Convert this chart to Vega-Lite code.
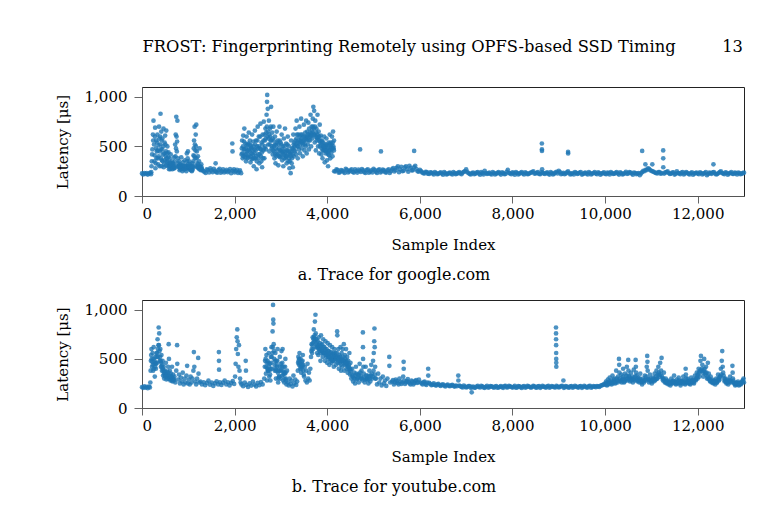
{
  "$schema": "https://vega.github.io/schema/vega-lite/v6.json",
  "background": "white",
  "padding": {"left": 54, "top": 39, "right": 20, "bottom": 10},
  "config": {
    "font": "DejaVu Serif",
    "view": {"stroke": "#222", "strokeWidth": 1},
    "axis": {
      "grid": false,
      "labelFont": "DejaVu Serif",
      "labelFontSize": 15,
      "labelColor": "#000",
      "titleFont": "DejaVu Serif",
      "titleFontSize": 15,
      "titleFontWeight": "normal",
      "titleColor": "#000",
      "domainColor": "#555",
      "tickColor": "#666"
    },
    "title": {"font": "DejaVu Serif", "fontSize": 16, "fontWeight": "normal", "color": "#000"}
  },
  "title": {
    "text": "FROST: Fingerprinting Remotely using OPFS-based SSD Timing\u00a0\u00a0\u00a0\u00a0\u00a0\u00a0\u00a0\u00a0\u00a013",
    "font": "DejaVu Serif",
    "fontSize": 16.3,
    "fontWeight": "normal",
    "anchor": "start",
    "dx": 88,
    "offset": 31
  },
  "datasets": {
    "google": [
      {"i":0,"lat":228},{"i":25,"lat":218},{"i":50,"lat":232},{"i":75,"lat":222},{"i":100,"lat":230},{"i":125,"lat":216},{"i":150,"lat":226},{"i":175,"lat":234},{"i":195,"lat":220},
      {"i":200,"lat":240},{"i":206,"lat":300},{"i":212,"lat":350},{"i":224,"lat":470},{"i":236,"lat":620},{"i":248,"lat":760},{"i":260,"lat":520},{"i":272,"lat":410},{"i":284,"lat":690},{"i":290,"lat":280},{"i":296,"lat":330},{"i":308,"lat":560},{"i":320,"lat":450},{"i":332,"lat":620},{"i":344,"lat":380},{"i":350,"lat":320},{"i":356,"lat":510},{"i":368,"lat":700},{"i":380,"lat":300},{"i":392,"lat":600},{"i":400,"lat":830},{"i":404,"lat":470},{"i":416,"lat":650},{"i":420,"lat":300},{"i":428,"lat":360},{"i":440,"lat":580},{"i":452,"lat":420},{"i":464,"lat":680},{"i":470,"lat":290},{"i":476,"lat":320},{"i":488,"lat":540},{"i":500,"lat":610},{"i":512,"lat":400},{"i":520,"lat":310},{"i":524,"lat":660},{"i":536,"lat":350},{"i":548,"lat":500},{"i":560,"lat":300},{"i":572,"lat":440},{"i":584,"lat":270},{"i":596,"lat":380},{"i":608,"lat":310},{"i":610,"lat":270},{"i":620,"lat":420},{"i":632,"lat":290},{"i":644,"lat":350},{"i":656,"lat":270},{"i":668,"lat":330},{"i":680,"lat":300},{"i":690,"lat":280},{"i":692,"lat":390},{"i":704,"lat":280},{"i":716,"lat":520},{"i":728,"lat":620},{"i":740,"lat":800},{"i":752,"lat":450},{"i":764,"lat":760},{"i":770,"lat":300},{"i":776,"lat":380},{"i":788,"lat":300},{"i":800,"lat":350},{"i":812,"lat":260},{"i":824,"lat":320},{"i":830,"lat":270},{"i":836,"lat":280},{"i":848,"lat":390},{"i":860,"lat":300},{"i":872,"lat":250},{"i":884,"lat":340},{"i":896,"lat":290},{"i":908,"lat":270},{"i":920,"lat":360},{"i":932,"lat":280},{"i":944,"lat":310},{"i":950,"lat":280},{"i":956,"lat":250},{"i":968,"lat":430},{"i":980,"lat":300},{"i":992,"lat":450},{"i":1004,"lat":280},{"i":1016,"lat":350},{"i":1028,"lat":270},{"i":1040,"lat":320},{"i":1052,"lat":260},{"i":1064,"lat":300},{"i":1076,"lat":250},{"i":1088,"lat":330},{"i":1090,"lat":270},{"i":1100,"lat":290},{"i":1112,"lat":410},{"i":1124,"lat":560},{"i":1136,"lat":700},{"i":1148,"lat":380},{"i":1150,"lat":300},{"i":1160,"lat":620},{"i":1172,"lat":720},{"i":1184,"lat":450},{"i":1190,"lat":290},{"i":1196,"lat":330},{"i":1208,"lat":400},{"i":1220,"lat":280},{"i":1232,"lat":350},{"i":1244,"lat":480},{"i":1256,"lat":300},{"i":1268,"lat":260},{"i":1280,"lat":320},{"i":1292,"lat":270},
      {"i":218,"lat":420},{"i":242,"lat":560},{"i":266,"lat":350},{"i":278,"lat":600},{"i":302,"lat":480},{"i":314,"lat":380},{"i":326,"lat":540},{"i":338,"lat":460},{"i":362,"lat":400},{"i":374,"lat":580},{"i":386,"lat":450},{"i":398,"lat":520},{"i":410,"lat":380},{"i":422,"lat":560},{"i":434,"lat":470},{"i":446,"lat":350},{"i":458,"lat":500},{"i":482,"lat":430},{"i":494,"lat":360},{"i":506,"lat":520},{"i":518,"lat":450},{"i":530,"lat":380},{"i":542,"lat":430},{"i":554,"lat":340},{"i":566,"lat":390},{"i":578,"lat":320},{"i":590,"lat":300},{"i":602,"lat":340},{"i":614,"lat":300},{"i":626,"lat":330},{"i":638,"lat":290},{"i":650,"lat":310},{"i":662,"lat":290},{"i":674,"lat":280},{"i":686,"lat":320},{"i":698,"lat":300},{"i":710,"lat":350},{"i":722,"lat":400},{"i":734,"lat":480},{"i":746,"lat":600},{"i":758,"lat":550},{"i":782,"lat":330},{"i":794,"lat":290},{"i":806,"lat":310},{"i":818,"lat":290},{"i":842,"lat":300},{"i":854,"lat":280},{"i":866,"lat":310},{"i":878,"lat":290},{"i":890,"lat":270},{"i":902,"lat":300},{"i":914,"lat":280},{"i":926,"lat":300},{"i":938,"lat":270},{"i":962,"lat":300},{"i":974,"lat":350},{"i":986,"lat":380},{"i":998,"lat":320},{"i":1010,"lat":290},{"i":1022,"lat":300},{"i":1034,"lat":280},{"i":1046,"lat":290},{"i":1058,"lat":270},{"i":1070,"lat":280},{"i":1082,"lat":260},{"i":1094,"lat":300},{"i":1106,"lat":350},{"i":1118,"lat":480},{"i":1130,"lat":400},{"i":1142,"lat":520},{"i":1154,"lat":460},{"i":1166,"lat":500},{"i":1178,"lat":380},{"i":1202,"lat":300},{"i":1214,"lat":320},{"i":1226,"lat":290},{"i":1238,"lat":270},{"i":1250,"lat":290},{"i":1262,"lat":280},{"i":1274,"lat":270},{"i":1286,"lat":290},
      {"i":1300,"lat":265},{"i":1325,"lat":250},{"i":1350,"lat":245},{"i":1375,"lat":232},{"i":1400,"lat":270},{"i":1425,"lat":262},{"i":1450,"lat":238},{"i":1475,"lat":280},{"i":1500,"lat":258},{"i":1525,"lat":240},{"i":1550,"lat":275},{"i":1575,"lat":255},{"i":1590,"lat":330},{"i":1600,"lat":242},{"i":1625,"lat":235},{"i":1650,"lat":262},{"i":1675,"lat":275},{"i":1700,"lat":235},{"i":1725,"lat":248},{"i":1750,"lat":268},{"i":1775,"lat":238},{"i":1800,"lat":250},{"i":1825,"lat":265},{"i":1850,"lat":240},{"i":1875,"lat":252},{"i":1900,"lat":272},{"i":1925,"lat":230},{"i":1950,"lat":530},{"i":1955,"lat":450},{"i":1960,"lat":255},{"i":1985,"lat":270},{"i":2000,"lat":238},{"i":2025,"lat":250},{"i":2050,"lat":265},{"i":2075,"lat":232},{"i":2100,"lat":245},{"i":2115,"lat":260},{"i":2140,"lat":230},
      {"i":2150,"lat":420},{"i":2162,"lat":560},{"i":2174,"lat":380},{"i":2186,"lat":610},{"i":2198,"lat":470},{"i":2210,"lat":680},{"i":2222,"lat":420},{"i":2234,"lat":530},{"i":2246,"lat":350},{"i":2258,"lat":600},{"i":2270,"lat":450},{"i":2282,"lat":520},{"i":2294,"lat":390},{"i":2306,"lat":640},{"i":2318,"lat":480},{"i":2330,"lat":560},{"i":2342,"lat":340},{"i":2354,"lat":500},{"i":2366,"lat":430},{"i":2378,"lat":620},{"i":2390,"lat":380},{"i":2402,"lat":550},{"i":2414,"lat":300},{"i":2426,"lat":470},{"i":2438,"lat":660},{"i":2450,"lat":380},{"i":2462,"lat":560},{"i":2474,"lat":270},{"i":2486,"lat":500},{"i":2498,"lat":700},{"i":2510,"lat":420},{"i":2522,"lat":600},{"i":2534,"lat":330},{"i":2546,"lat":480},{"i":2558,"lat":730},{"i":2570,"lat":400},{"i":2582,"lat":540},{"i":2594,"lat":290},{"i":2606,"lat":620},{"i":2618,"lat":460},{"i":2630,"lat":750},{"i":2642,"lat":380},{"i":2654,"lat":560},{"i":2666,"lat":680},{"i":2678,"lat":470},{"i":2690,"lat":820},{"i":2700,"lat":950},{"i":2704,"lat":1020},{"i":2710,"lat":600},{"i":2716,"lat":880},{"i":2728,"lat":520},{"i":2740,"lat":760},{"i":2752,"lat":450},{"i":2764,"lat":680},{"i":2776,"lat":560},{"i":2788,"lat":900},{"i":2800,"lat":480},{"i":2812,"lat":640},{"i":2824,"lat":420},{"i":2836,"lat":700},{"i":2848,"lat":500},{"i":2860,"lat":380},{"i":2872,"lat":600},{"i":2884,"lat":330},{"i":2896,"lat":520},{"i":2908,"lat":650},{"i":2920,"lat":420},{"i":2932,"lat":560},{"i":2944,"lat":310},{"i":2956,"lat":480},{"i":2968,"lat":700},{"i":2980,"lat":390},{"i":2992,"lat":540},{"i":3004,"lat":450},{"i":3016,"lat":620},{"i":3028,"lat":360},{"i":3040,"lat":500},{"i":3052,"lat":300},{"i":3064,"lat":580},{"i":3076,"lat":420},{"i":3088,"lat":680},{"i":3100,"lat":380},{"i":3112,"lat":530},{"i":3124,"lat":330},{"i":3136,"lat":460},{"i":3148,"lat":600},{"i":3160,"lat":350},{"i":3172,"lat":500},{"i":3184,"lat":280},{"i":3196,"lat":420},{"i":3210,"lat":230},{"i":3220,"lat":560},{"i":3232,"lat":330},{"i":3244,"lat":480},{"i":3256,"lat":290},{"i":3268,"lat":620},{"i":3280,"lat":400},{"i":3292,"lat":540},{"i":3304,"lat":450},{"i":3316,"lat":680},{"i":3328,"lat":420},{"i":3340,"lat":760},{"i":3352,"lat":500},{"i":3364,"lat":380},{"i":3376,"lat":620},{"i":3388,"lat":470},{"i":3400,"lat":700},{"i":3412,"lat":430},{"i":3424,"lat":560},{"i":3436,"lat":780},{"i":3448,"lat":480},{"i":3460,"lat":620},{"i":3472,"lat":400},{"i":3484,"lat":540},{"i":3496,"lat":720},{"i":3508,"lat":460},{"i":3520,"lat":600},{"i":3532,"lat":500},{"i":3544,"lat":760},{"i":3556,"lat":430},{"i":3568,"lat":650},{"i":3580,"lat":520},{"i":3592,"lat":740},{"i":3604,"lat":470},{"i":3616,"lat":620},{"i":3628,"lat":560},{"i":3640,"lat":820},{"i":3652,"lat":500},{"i":3664,"lat":700},{"i":3676,"lat":580},{"i":3688,"lat":780},{"i":3700,"lat":900},{"i":3706,"lat":620},{"i":3718,"lat":860},{"i":3730,"lat":540},{"i":3742,"lat":760},{"i":3754,"lat":460},{"i":3766,"lat":680},{"i":3778,"lat":590},{"i":3790,"lat":820},{"i":3802,"lat":500},{"i":3814,"lat":650},{"i":3826,"lat":430},{"i":3838,"lat":720},{"i":3850,"lat":540},{"i":3862,"lat":610},{"i":3874,"lat":420},{"i":3886,"lat":560},{"i":3898,"lat":380},{"i":3910,"lat":500},{"i":3922,"lat":460},{"i":3934,"lat":600},{"i":3946,"lat":340},{"i":3958,"lat":520},{"i":3970,"lat":430},{"i":3982,"lat":580},{"i":3994,"lat":360},{"i":4006,"lat":480},{"i":4018,"lat":300},{"i":4030,"lat":540},{"i":4042,"lat":410},{"i":4054,"lat":620},{"i":4066,"lat":380},{"i":4078,"lat":500},{"i":4090,"lat":440},{"i":4102,"lat":600},{"i":4114,"lat":400},{"i":4126,"lat":650},{"i":4138,"lat":480},{"i":4146,"lat":560},
      {"i":2156,"lat":480},{"i":2168,"lat":430},{"i":2180,"lat":500},{"i":2192,"lat":400},{"i":2204,"lat":550},{"i":2216,"lat":470},{"i":2228,"lat":390},{"i":2240,"lat":480},{"i":2252,"lat":420},{"i":2264,"lat":510},{"i":2276,"lat":380},{"i":2288,"lat":460},{"i":2300,"lat":530},{"i":2312,"lat":410},{"i":2324,"lat":450},{"i":2336,"lat":520},{"i":2348,"lat":400},{"i":2360,"lat":480},{"i":2372,"lat":370},{"i":2384,"lat":460},{"i":2396,"lat":420},{"i":2408,"lat":500},{"i":2420,"lat":380},{"i":2432,"lat":430},{"i":2444,"lat":520},{"i":2456,"lat":460},{"i":2468,"lat":400},{"i":2480,"lat":350},{"i":2492,"lat":560},{"i":2504,"lat":480},{"i":2516,"lat":380},{"i":2528,"lat":500},{"i":2540,"lat":420},{"i":2552,"lat":600},{"i":2564,"lat":470},{"i":2576,"lat":350},{"i":2588,"lat":440},{"i":2600,"lat":520},{"i":2612,"lat":380},{"i":2624,"lat":560},{"i":2636,"lat":480},{"i":2648,"lat":620},{"i":2660,"lat":500},{"i":2672,"lat":580},{"i":2684,"lat":640},{"i":2696,"lat":700},{"i":2722,"lat":650},{"i":2734,"lat":580},{"i":2746,"lat":620},{"i":2758,"lat":520},{"i":2770,"lat":600},{"i":2782,"lat":700},{"i":2794,"lat":560},{"i":2806,"lat":500},{"i":2818,"lat":580},{"i":2830,"lat":460},{"i":2842,"lat":560},{"i":2854,"lat":450},{"i":2866,"lat":520},{"i":2878,"lat":420},{"i":2890,"lat":480},{"i":2902,"lat":400},{"i":2914,"lat":540},{"i":2926,"lat":460},{"i":2938,"lat":420},{"i":2950,"lat":520},{"i":2962,"lat":400},{"i":2974,"lat":560},{"i":2986,"lat":460},{"i":2998,"lat":400},{"i":3010,"lat":520},{"i":3022,"lat":440},{"i":3034,"lat":470},{"i":3046,"lat":420},{"i":3058,"lat":450},{"i":3070,"lat":380},{"i":3082,"lat":500},{"i":3094,"lat":440},{"i":3106,"lat":400},{"i":3118,"lat":460},{"i":3130,"lat":400},{"i":3142,"lat":520},{"i":3154,"lat":420},{"i":3166,"lat":450},{"i":3178,"lat":380},{"i":3190,"lat":350},{"i":3202,"lat":450},{"i":3214,"lat":400},{"i":3226,"lat":440},{"i":3238,"lat":380},{"i":3250,"lat":420},{"i":3262,"lat":480},{"i":3274,"lat":520},{"i":3286,"lat":460},{"i":3298,"lat":500},{"i":3310,"lat":560},{"i":3322,"lat":520},{"i":3334,"lat":580},{"i":3346,"lat":620},{"i":3358,"lat":540},{"i":3370,"lat":500},{"i":3382,"lat":560},{"i":3394,"lat":540},{"i":3406,"lat":600},{"i":3418,"lat":520},{"i":3430,"lat":620},{"i":3442,"lat":580},{"i":3454,"lat":540},{"i":3466,"lat":560},{"i":3478,"lat":520},{"i":3490,"lat":600},{"i":3502,"lat":560},{"i":3514,"lat":520},{"i":3526,"lat":640},{"i":3538,"lat":580},{"i":3550,"lat":560},{"i":3562,"lat":600},{"i":3574,"lat":580},{"i":3586,"lat":620},{"i":3598,"lat":560},{"i":3610,"lat":680},{"i":3622,"lat":600},{"i":3634,"lat":640},{"i":3646,"lat":600},{"i":3658,"lat":620},{"i":3670,"lat":660},{"i":3682,"lat":640},{"i":3694,"lat":700},{"i":3712,"lat":680},{"i":3724,"lat":620},{"i":3736,"lat":700},{"i":3748,"lat":600},{"i":3760,"lat":640},{"i":3772,"lat":560},{"i":3784,"lat":620},{"i":3796,"lat":580},{"i":3808,"lat":600},{"i":3820,"lat":560},{"i":3832,"lat":600},{"i":3844,"lat":500},{"i":3856,"lat":560},{"i":3868,"lat":520},{"i":3880,"lat":480},{"i":3892,"lat":540},{"i":3904,"lat":460},{"i":3916,"lat":540},{"i":3928,"lat":500},{"i":3940,"lat":480},{"i":3952,"lat":460},{"i":3964,"lat":500},{"i":3976,"lat":460},{"i":3988,"lat":520},{"i":4000,"lat":440},{"i":4012,"lat":500},{"i":4024,"lat":420},{"i":4036,"lat":460},{"i":4048,"lat":520},{"i":4060,"lat":460},{"i":4072,"lat":540},{"i":4084,"lat":480},{"i":4096,"lat":520},{"i":4108,"lat":480},{"i":4120,"lat":540},{"i":4132,"lat":500},{"i":4144,"lat":460},
      {"i":4150,"lat":250},{"i":4200,"lat":270},{"i":4250,"lat":235},{"i":4300,"lat":262},{"i":4350,"lat":245},{"i":4400,"lat":275},{"i":4450,"lat":238},{"i":4500,"lat":258},{"i":4550,"lat":242},{"i":4600,"lat":268},{"i":4650,"lat":236},{"i":4700,"lat":255},{"i":4710,"lat":470},{"i":4750,"lat":272},{"i":4800,"lat":240},{"i":4850,"lat":262},{"i":4900,"lat":235},{"i":4950,"lat":258},{"i":5000,"lat":275},{"i":5050,"lat":244},{"i":5100,"lat":262},{"i":5150,"lat":238},{"i":5160,"lat":450},{"i":5200,"lat":266},{"i":5250,"lat":240},{"i":5300,"lat":258},{"i":5350,"lat":232},{"i":5400,"lat":270},{"i":5450,"lat":248},{"i":5500,"lat":285},{"i":5550,"lat":240},{"i":5600,"lat":295},{"i":5650,"lat":255},{"i":5700,"lat":300},{"i":5750,"lat":245},{"i":5800,"lat":285},{"i":5850,"lat":260},{"i":5877,"lat":455},{"i":5900,"lat":305},{"i":5950,"lat":250},{"i":6000,"lat":265},{"i":6050,"lat":238},{"i":6100,"lat":228},{"i":6150,"lat":240},{"i":6200,"lat":222},{"i":6250,"lat":235},{"i":6300,"lat":218},{"i":6350,"lat":232},{"i":6400,"lat":224},{"i":6450,"lat":238},{"i":6500,"lat":215},{"i":6550,"lat":230},{"i":6600,"lat":222},{"i":6650,"lat":236},{"i":6700,"lat":218},{"i":6750,"lat":230},{"i":6800,"lat":225},{"i":6850,"lat":240},{"i":6900,"lat":220},{"i":6950,"lat":245},{"i":7000,"lat":270},{"i":7050,"lat":232},{"i":7100,"lat":218},{"i":7150,"lat":235},{"i":7200,"lat":225},{"i":7250,"lat":240},{"i":7300,"lat":215},{"i":7350,"lat":230},{"i":7400,"lat":255},{"i":7450,"lat":222},{"i":7500,"lat":236},{"i":7550,"lat":218},{"i":7600,"lat":232},{"i":7650,"lat":225},{"i":7700,"lat":240},{"i":7750,"lat":216},{"i":7800,"lat":230},{"i":7850,"lat":222},{"i":7900,"lat":265},{"i":7950,"lat":228},{"i":8000,"lat":238},{"i":8050,"lat":215},{"i":8100,"lat":232},{"i":8150,"lat":225},{"i":8200,"lat":240},{"i":8250,"lat":218},{"i":8300,"lat":230},{"i":8350,"lat":222},{"i":8400,"lat":236},{"i":8450,"lat":250},{"i":8500,"lat":228},{"i":8550,"lat":240},{"i":8600,"lat":220},{"i":8635,"lat":530},{"i":8636,"lat":470},{"i":8637,"lat":455},{"i":8640,"lat":270},{"i":8650,"lat":235},{"i":8700,"lat":222},{"i":8750,"lat":238},{"i":8800,"lat":216},{"i":8850,"lat":230},{"i":8900,"lat":225},{"i":8950,"lat":245},{"i":9000,"lat":255},{"i":9050,"lat":220},{"i":9100,"lat":234},{"i":9150,"lat":226},{"i":9200,"lat":250},{"i":9201,"lat":445},{"i":9202,"lat":430},{"i":9250,"lat":218},{"i":9300,"lat":232},{"i":9350,"lat":240},{"i":9400,"lat":222},{"i":9450,"lat":236},{"i":9500,"lat":216},{"i":9550,"lat":230},{"i":9600,"lat":225},{"i":9650,"lat":240},{"i":9700,"lat":218},{"i":9750,"lat":232},{"i":9800,"lat":226},{"i":9850,"lat":238},{"i":9900,"lat":215},{"i":9950,"lat":230},{"i":10000,"lat":224},{"i":10050,"lat":236},{"i":10100,"lat":218},{"i":10150,"lat":232},{"i":10200,"lat":225},{"i":10250,"lat":240},{"i":10300,"lat":216},{"i":10350,"lat":230},{"i":10400,"lat":222},{"i":10450,"lat":245},{"i":10500,"lat":228},{"i":10550,"lat":236},{"i":10600,"lat":215},{"i":10650,"lat":232},{"i":10700,"lat":226},{"i":10750,"lat":210},{"i":10800,"lat":240},{"i":10801,"lat":455},{"i":10850,"lat":250},{"i":10870,"lat":320},{"i":10900,"lat":262},{"i":10950,"lat":275},{"i":11000,"lat":255},{"i":11020,"lat":320},{"i":11050,"lat":245},{"i":11100,"lat":232},{"i":11150,"lat":240},{"i":11200,"lat":225},{"i":11255,"lat":460},{"i":11256,"lat":380},{"i":11257,"lat":290},{"i":11300,"lat":238},{"i":11350,"lat":250},{"i":11400,"lat":222},{"i":11450,"lat":236},{"i":11500,"lat":216},{"i":11550,"lat":248},{"i":11600,"lat":228},{"i":11650,"lat":235},{"i":11700,"lat":218},{"i":11750,"lat":240},{"i":11800,"lat":224},{"i":11850,"lat":232},{"i":11900,"lat":215},{"i":11950,"lat":230},{"i":12000,"lat":226},{"i":12050,"lat":238},{"i":12100,"lat":218},{"i":12150,"lat":232},{"i":12200,"lat":210},{"i":12250,"lat":236},{"i":12300,"lat":224},{"i":12340,"lat":320},{"i":12350,"lat":240},{"i":12400,"lat":218},{"i":12450,"lat":232},{"i":12500,"lat":250},{"i":12550,"lat":226},{"i":12600,"lat":238},{"i":12650,"lat":215},{"i":12700,"lat":232},{"i":12750,"lat":224},{"i":12800,"lat":236},{"i":12850,"lat":218},{"i":12900,"lat":230},{"i":12950,"lat":225},{"i":13000,"lat":235},
      {"i":4175,"lat":248},{"i":4225,"lat":262},{"i":4275,"lat":240},{"i":4325,"lat":255},{"i":4375,"lat":232},{"i":4425,"lat":265},{"i":4475,"lat":248},{"i":4525,"lat":270},{"i":4575,"lat":236},{"i":4625,"lat":252},{"i":4675,"lat":266},{"i":4725,"lat":242},{"i":4775,"lat":258},{"i":4825,"lat":232},{"i":4875,"lat":270},{"i":4925,"lat":246},{"i":4975,"lat":238},{"i":5025,"lat":262},{"i":5075,"lat":232},{"i":5125,"lat":270},{"i":5175,"lat":248},{"i":5225,"lat":258},{"i":5275,"lat":236},{"i":5325,"lat":268},{"i":5375,"lat":250},{"i":5425,"lat":282},{"i":5475,"lat":262},{"i":5525,"lat":300},{"i":5575,"lat":268},{"i":5625,"lat":250},{"i":5675,"lat":290},{"i":5725,"lat":270},{"i":5775,"lat":305},{"i":5825,"lat":258},{"i":5875,"lat":290},{"i":5925,"lat":272},{"i":5975,"lat":245},
      {"i":6025,"lat":252},{"i":6075,"lat":230},{"i":6125,"lat":245},{"i":6175,"lat":225},{"i":6225,"lat":238},{"i":6275,"lat":228},{"i":6325,"lat":242},{"i":6375,"lat":220},{"i":6425,"lat":232},{"i":6475,"lat":226},{"i":6525,"lat":240},{"i":6575,"lat":218},{"i":6625,"lat":230},{"i":6675,"lat":225},{"i":6725,"lat":240},{"i":6775,"lat":220},{"i":6825,"lat":234},{"i":6875,"lat":228},{"i":6925,"lat":236},{"i":6975,"lat":250},{"i":7025,"lat":240},{"i":7075,"lat":222},{"i":7125,"lat":230},{"i":7175,"lat":220},{"i":7225,"lat":236},{"i":7275,"lat":226},{"i":7325,"lat":240},{"i":7375,"lat":218},{"i":7425,"lat":232},{"i":7475,"lat":228},{"i":7525,"lat":224},{"i":7575,"lat":240},{"i":7625,"lat":218},{"i":7675,"lat":234},{"i":7725,"lat":228},{"i":7775,"lat":238},{"i":7825,"lat":220},{"i":7875,"lat":245},{"i":7925,"lat":232},{"i":7975,"lat":220},{"i":8025,"lat":230},{"i":8075,"lat":240},{"i":8125,"lat":218},{"i":8175,"lat":234},{"i":8225,"lat":226},{"i":8275,"lat":238},{"i":8325,"lat":220},{"i":8375,"lat":232},{"i":8425,"lat":240},{"i":8475,"lat":226},{"i":8525,"lat":234},{"i":8575,"lat":222},{"i":8625,"lat":238},{"i":8675,"lat":228},{"i":8725,"lat":232},{"i":8775,"lat":224},{"i":8825,"lat":240},{"i":8875,"lat":218},{"i":8925,"lat":236},{"i":8975,"lat":228},{"i":9025,"lat":240},{"i":9075,"lat":226},{"i":9125,"lat":220},{"i":9175,"lat":238},{"i":9225,"lat":230},{"i":9275,"lat":224},{"i":9325,"lat":218},{"i":9375,"lat":234},{"i":9425,"lat":228},{"i":9475,"lat":240},{"i":9525,"lat":222},{"i":9575,"lat":236},{"i":9625,"lat":218},{"i":9675,"lat":230},{"i":9725,"lat":226},{"i":9775,"lat":240},{"i":9825,"lat":220},{"i":9875,"lat":232},{"i":9925,"lat":226},{"i":9975,"lat":238},
      {"i":10025,"lat":220},{"i":10075,"lat":230},{"i":10125,"lat":240},{"i":10175,"lat":222},{"i":10225,"lat":234},{"i":10275,"lat":226},{"i":10325,"lat":238},{"i":10375,"lat":218},{"i":10425,"lat":232},{"i":10475,"lat":224},{"i":10525,"lat":240},{"i":10575,"lat":226},{"i":10625,"lat":236},{"i":10675,"lat":220},{"i":10725,"lat":232},{"i":10775,"lat":228},{"i":10825,"lat":255},{"i":10875,"lat":265},{"i":10925,"lat":280},{"i":10975,"lat":260},{"i":11025,"lat":248},{"i":11075,"lat":236},{"i":11125,"lat":228},{"i":11175,"lat":242},{"i":11225,"lat":230},{"i":11275,"lat":226},{"i":11325,"lat":240},{"i":11375,"lat":232},{"i":11425,"lat":226},{"i":11475,"lat":238},{"i":11525,"lat":224},{"i":11575,"lat":232},{"i":11625,"lat":220},{"i":11675,"lat":240},{"i":11725,"lat":228},{"i":11775,"lat":234},{"i":11825,"lat":218},{"i":11875,"lat":238},{"i":11925,"lat":226},{"i":11975,"lat":236},{"i":12025,"lat":220},{"i":12075,"lat":232},{"i":12125,"lat":226},{"i":12175,"lat":240},{"i":12225,"lat":222},{"i":12275,"lat":230},{"i":12325,"lat":238},{"i":12375,"lat":226},{"i":12425,"lat":222},{"i":12475,"lat":240},{"i":12525,"lat":232},{"i":12575,"lat":220},{"i":12625,"lat":234},{"i":12675,"lat":226},{"i":12725,"lat":240},{"i":12775,"lat":222},{"i":12825,"lat":230},{"i":12875,"lat":236},{"i":12925,"lat":220},{"i":12975,"lat":230}
    ],
    "youtube": [
      {"i":0,"lat":212},{"i":25,"lat":205},{"i":50,"lat":220},{"i":75,"lat":208},{"i":100,"lat":215},{"i":125,"lat":202},{"i":150,"lat":218},{"i":170,"lat":210},
      {"i":180,"lat":260},{"i":192,"lat":480},{"i":204,"lat":600},{"i":216,"lat":420},{"i":228,"lat":560},{"i":240,"lat":380},{"i":252,"lat":620},{"i":264,"lat":450},{"i":276,"lat":320},{"i":288,"lat":520},{"i":300,"lat":400},{"i":312,"lat":560},{"i":324,"lat":460},{"i":336,"lat":700},{"i":348,"lat":520},{"i":360,"lat":820},{"i":366,"lat":640},{"i":372,"lat":760},{"i":384,"lat":480},{"i":396,"lat":600},{"i":408,"lat":420},{"i":420,"lat":540},{"i":432,"lat":380},{"i":444,"lat":480},{"i":456,"lat":330},{"i":468,"lat":420},{"i":480,"lat":300},{"i":492,"lat":380},{"i":504,"lat":340},{"i":516,"lat":460},{"i":528,"lat":290},{"i":540,"lat":370},{"i":552,"lat":320},{"i":564,"lat":420},{"i":576,"lat":650},{"i":582,"lat":500},{"i":588,"lat":300},{"i":600,"lat":380},{"i":612,"lat":280},{"i":624,"lat":350},{"i":636,"lat":300},{"i":648,"lat":420},{"i":660,"lat":270},{"i":672,"lat":340},{"i":684,"lat":290},
      {"i":186,"lat":380},{"i":198,"lat":540},{"i":210,"lat":500},{"i":222,"lat":470},{"i":234,"lat":440},{"i":246,"lat":500},{"i":258,"lat":400},{"i":270,"lat":480},{"i":282,"lat":420},{"i":294,"lat":460},{"i":306,"lat":450},{"i":318,"lat":520},{"i":330,"lat":560},{"i":342,"lat":600},{"i":354,"lat":640},{"i":378,"lat":580},{"i":390,"lat":520},{"i":402,"lat":480},{"i":414,"lat":460},{"i":426,"lat":420},{"i":438,"lat":440},{"i":450,"lat":400},{"i":462,"lat":380},{"i":474,"lat":360},{"i":486,"lat":340},{"i":498,"lat":320},{"i":510,"lat":360},{"i":522,"lat":330},{"i":534,"lat":320},{"i":546,"lat":340},{"i":558,"lat":300},{"i":570,"lat":360},{"i":594,"lat":330},{"i":606,"lat":320},{"i":618,"lat":300},{"i":630,"lat":320},{"i":642,"lat":280},{"i":654,"lat":310},{"i":666,"lat":290},{"i":678,"lat":300},{"i":690,"lat":280},
      {"i":700,"lat":320},{"i":720,"lat":260},{"i":740,"lat":380},{"i":758,"lat":640},{"i":762,"lat":450},{"i":780,"lat":290},{"i":800,"lat":340},{"i":820,"lat":250},{"i":840,"lat":310},{"i":860,"lat":270},{"i":880,"lat":360},{"i":900,"lat":240},{"i":920,"lat":300},{"i":940,"lat":260},{"i":960,"lat":330},{"i":975,"lat":430},{"i":990,"lat":250},{"i":1010,"lat":290},{"i":1030,"lat":240},{"i":1050,"lat":320},{"i":1070,"lat":260},{"i":1090,"lat":300},{"i":1110,"lat":380},{"i":1120,"lat":570},{"i":1130,"lat":420},{"i":1150,"lat":270},{"i":1170,"lat":240},{"i":1190,"lat":300},{"i":1213,"lat":510},{"i":1220,"lat":350},{"i":1240,"lat":260},
      {"i":1260,"lat":270},{"i":1295,"lat":240},{"i":1330,"lat":262},{"i":1365,"lat":232},{"i":1400,"lat":255},{"i":1435,"lat":278},{"i":1470,"lat":238},{"i":1505,"lat":260},{"i":1540,"lat":225},{"i":1575,"lat":250},{"i":1610,"lat":272},{"i":1645,"lat":240},{"i":1660,"lat":570},{"i":1662,"lat":480},{"i":1664,"lat":390},{"i":1680,"lat":262},{"i":1715,"lat":235},{"i":1750,"lat":258},{"i":1785,"lat":280},{"i":1820,"lat":240},{"i":1855,"lat":262},{"i":1890,"lat":230},{"i":1925,"lat":255},{"i":1960,"lat":275},{"i":1990,"lat":245},
      {"i":2010,"lat":320},{"i":2022,"lat":450},{"i":2034,"lat":600},{"i":2046,"lat":720},{"i":2058,"lat":800},{"i":2064,"lat":680},{"i":2070,"lat":550},{"i":2082,"lat":420},{"i":2094,"lat":640},{"i":2106,"lat":380},{"i":2118,"lat":300},{"i":2130,"lat":260},
      {"i":2150,"lat":240},{"i":2185,"lat":222},{"i":2220,"lat":260},{"i":2240,"lat":480},{"i":2245,"lat":380},{"i":2255,"lat":235},{"i":2290,"lat":215},{"i":2325,"lat":250},{"i":2360,"lat":228},{"i":2395,"lat":270},{"i":2430,"lat":238},{"i":2465,"lat":220},{"i":2500,"lat":255},{"i":2535,"lat":232},{"i":2570,"lat":265},{"i":2605,"lat":240},{"i":2640,"lat":300},
      {"i":2652,"lat":420},{"i":2664,"lat":600},{"i":2676,"lat":350},{"i":2688,"lat":540},{"i":2700,"lat":280},{"i":2712,"lat":480},{"i":2724,"lat":380},{"i":2736,"lat":560},{"i":2748,"lat":320},{"i":2760,"lat":450},{"i":2772,"lat":280},{"i":2784,"lat":520},{"i":2796,"lat":620},{"i":2808,"lat":400},{"i":2820,"lat":780},{"i":2830,"lat":1050},{"i":2834,"lat":900},{"i":2838,"lat":860},{"i":2844,"lat":650},{"i":2856,"lat":500},{"i":2868,"lat":380},{"i":2880,"lat":560},{"i":2892,"lat":300},{"i":2904,"lat":480},{"i":2916,"lat":420},{"i":2928,"lat":600},{"i":2940,"lat":260},{"i":2952,"lat":380},{"i":2964,"lat":320},{"i":2976,"lat":520},
      {"i":2658,"lat":480},{"i":2670,"lat":500},{"i":2682,"lat":420},{"i":2694,"lat":460},{"i":2706,"lat":400},{"i":2718,"lat":380},{"i":2730,"lat":460},{"i":2742,"lat":420},{"i":2754,"lat":380},{"i":2766,"lat":340},{"i":2778,"lat":400},{"i":2790,"lat":460},{"i":2802,"lat":520},{"i":2814,"lat":560},{"i":2826,"lat":620},{"i":2850,"lat":580},{"i":2862,"lat":440},{"i":2874,"lat":480},{"i":2886,"lat":400},{"i":2898,"lat":380},{"i":2910,"lat":440},{"i":2922,"lat":480},{"i":2934,"lat":360},{"i":2946,"lat":300},{"i":2958,"lat":320},{"i":2970,"lat":380},{"i":2982,"lat":420},
      {"i":2988,"lat":300},{"i":3000,"lat":450},{"i":3012,"lat":580},{"i":3024,"lat":330},{"i":3036,"lat":600},{"i":3048,"lat":280},{"i":3060,"lat":420},{"i":3072,"lat":260},{"i":3084,"lat":350},{"i":3096,"lat":500},{"i":3108,"lat":300},{"i":3120,"lat":240},{"i":3132,"lat":380},
      {"i":3006,"lat":380},{"i":3018,"lat":420},{"i":3030,"lat":460},{"i":3042,"lat":380},{"i":3054,"lat":340},{"i":3066,"lat":360},{"i":3078,"lat":300},{"i":3090,"lat":420},{"i":3102,"lat":360},{"i":3114,"lat":280},
      {"i":3150,"lat":260},{"i":3170,"lat":230},{"i":3190,"lat":300},{"i":3210,"lat":245},{"i":3230,"lat":280},{"i":3250,"lat":220},{"i":3270,"lat":330},{"i":3290,"lat":250},{"i":3310,"lat":290},{"i":3330,"lat":235},{"i":3350,"lat":270},
      {"i":3365,"lat":380},{"i":3377,"lat":520},{"i":3389,"lat":440},{"i":3401,"lat":560},{"i":3413,"lat":400},{"i":3425,"lat":500},{"i":3437,"lat":360},{"i":3449,"lat":470},{"i":3461,"lat":420},{"i":3473,"lat":540},{"i":3485,"lat":380},
      {"i":3371,"lat":460},{"i":3383,"lat":480},{"i":3395,"lat":500},{"i":3407,"lat":460},{"i":3419,"lat":440},{"i":3431,"lat":420},{"i":3443,"lat":400},{"i":3455,"lat":440},{"i":3467,"lat":480},{"i":3479,"lat":440},{"i":3491,"lat":340},
      {"i":3500,"lat":320},{"i":3515,"lat":420},{"i":3530,"lat":280},{"i":3545,"lat":380},{"i":3560,"lat":260},{"i":3575,"lat":450},{"i":3590,"lat":300},{"i":3605,"lat":360},{"i":3620,"lat":280},{"i":3635,"lat":400},
      {"i":3650,"lat":520},{"i":3662,"lat":650},{"i":3674,"lat":560},{"i":3686,"lat":720},{"i":3698,"lat":600},{"i":3710,"lat":800},{"i":3722,"lat":680},{"i":3734,"lat":880},{"i":3746,"lat":950},{"i":3752,"lat":760},{"i":3758,"lat":620},{"i":3770,"lat":700},{"i":3782,"lat":560},
      {"i":3794,"lat":680},{"i":3806,"lat":540},{"i":3818,"lat":720},{"i":3830,"lat":600},{"i":3842,"lat":660},{"i":3854,"lat":480},{"i":3866,"lat":740},{"i":3878,"lat":580},{"i":3890,"lat":650},{"i":3902,"lat":520},{"i":3914,"lat":700},{"i":3926,"lat":560},{"i":3938,"lat":620},{"i":3950,"lat":480},{"i":3962,"lat":680},{"i":3974,"lat":540},{"i":3986,"lat":600},{"i":3998,"lat":460},{"i":4010,"lat":660},{"i":4022,"lat":520},{"i":4034,"lat":580},{"i":4046,"lat":440},{"i":4058,"lat":640},{"i":4070,"lat":500},{"i":4082,"lat":570},{"i":4094,"lat":460},{"i":4106,"lat":620},{"i":4118,"lat":480},{"i":4130,"lat":550},{"i":4142,"lat":420},{"i":4154,"lat":600},{"i":4166,"lat":500},{"i":4178,"lat":560},{"i":4190,"lat":440},{"i":4202,"lat":520},{"i":4214,"lat":780},{"i":4218,"lat":740},{"i":4226,"lat":460},{"i":4238,"lat":600},{"i":4250,"lat":400},{"i":4262,"lat":540},{"i":4274,"lat":460},{"i":4286,"lat":620},{"i":4298,"lat":380},
      {"i":3656,"lat":580},{"i":3668,"lat":600},{"i":3680,"lat":640},{"i":3692,"lat":660},{"i":3704,"lat":700},{"i":3716,"lat":720},{"i":3728,"lat":740},{"i":3740,"lat":700},{"i":3764,"lat":660},{"i":3776,"lat":640},{"i":3788,"lat":620},{"i":3800,"lat":620},{"i":3812,"lat":600},{"i":3824,"lat":640},{"i":3836,"lat":580},{"i":3848,"lat":620},{"i":3860,"lat":560},{"i":3872,"lat":640},{"i":3884,"lat":600},{"i":3896,"lat":580},{"i":3908,"lat":560},{"i":3920,"lat":620},{"i":3932,"lat":560},{"i":3944,"lat":560},{"i":3956,"lat":600},{"i":3968,"lat":580},{"i":3980,"lat":520},{"i":3992,"lat":560},{"i":4004,"lat":540},{"i":4016,"lat":580},{"i":4028,"lat":500},{"i":4040,"lat":540},{"i":4052,"lat":520},{"i":4064,"lat":560},{"i":4076,"lat":480},{"i":4088,"lat":540},{"i":4100,"lat":520},{"i":4112,"lat":500},{"i":4124,"lat":480},{"i":4136,"lat":560},{"i":4148,"lat":520},{"i":4160,"lat":540},{"i":4172,"lat":480},{"i":4184,"lat":520},{"i":4196,"lat":500},{"i":4208,"lat":560},{"i":4232,"lat":520},{"i":4244,"lat":480},{"i":4256,"lat":500},{"i":4268,"lat":480},{"i":4280,"lat":520},{"i":4292,"lat":440},{"i":4304,"lat":480},{"i":4316,"lat":500},{"i":4328,"lat":480},{"i":4340,"lat":520},{"i":4352,"lat":460},{"i":4364,"lat":480},{"i":4376,"lat":440},{"i":4388,"lat":500},{"i":4400,"lat":460},{"i":4412,"lat":480},{"i":4424,"lat":440},{"i":4436,"lat":460},{"i":4448,"lat":420},{"i":4460,"lat":400},{"i":4472,"lat":440},{"i":4484,"lat":380},{"i":4496,"lat":400},{"i":4508,"lat":380},
      {"i":4310,"lat":560},{"i":4322,"lat":420},{"i":4334,"lat":600},{"i":4346,"lat":480},{"i":4358,"lat":650},{"i":4370,"lat":380},{"i":4382,"lat":540},{"i":4394,"lat":450},{"i":4406,"lat":600},{"i":4418,"lat":400},{"i":4430,"lat":520},{"i":4442,"lat":360},{"i":4454,"lat":480},{"i":4466,"lat":420},{"i":4478,"lat":560},{"i":4490,"lat":340},{"i":4502,"lat":460},
      {"i":4520,"lat":300},{"i":4540,"lat":400},{"i":4560,"lat":270},{"i":4580,"lat":360},{"i":4600,"lat":250},{"i":4620,"lat":420},{"i":4640,"lat":290},{"i":4660,"lat":340},{"i":4680,"lat":260},{"i":4700,"lat":450},{"i":4720,"lat":300},{"i":4740,"lat":380},{"i":4760,"lat":280},{"i":4770,"lat":770},{"i":4772,"lat":620},{"i":4774,"lat":500},{"i":4790,"lat":350},{"i":4810,"lat":260},{"i":4830,"lat":420},{"i":4850,"lat":290},{"i":4870,"lat":330},{"i":4890,"lat":250},{"i":4910,"lat":380},{"i":4930,"lat":270},{"i":4950,"lat":440},{"i":4970,"lat":300},{"i":4990,"lat":480},{"i":5005,"lat":560},{"i":5015,"lat":680},{"i":5020,"lat":810},{"i":5025,"lat":620},{"i":5035,"lat":420},
      {"i":4530,"lat":340},{"i":4550,"lat":320},{"i":4570,"lat":310},{"i":4590,"lat":300},{"i":4610,"lat":330},{"i":4630,"lat":350},{"i":4650,"lat":300},{"i":4670,"lat":310},{"i":4690,"lat":340},{"i":4710,"lat":360},{"i":4730,"lat":320},{"i":4750,"lat":300},{"i":4780,"lat":420},{"i":4800,"lat":310},{"i":4820,"lat":290},{"i":4840,"lat":330},{"i":4860,"lat":300},{"i":4880,"lat":290},{"i":4900,"lat":320},{"i":4920,"lat":300},{"i":4940,"lat":330},{"i":4960,"lat":350},{"i":4980,"lat":320},{"i":5000,"lat":380},{"i":5030,"lat":340},{"i":5040,"lat":300},
      {"i":5050,"lat":300},{"i":5075,"lat":240},{"i":5100,"lat":350},{"i":5125,"lat":260},{"i":5150,"lat":300},{"i":5175,"lat":230},{"i":5200,"lat":320},{"i":5225,"lat":250},{"i":5250,"lat":280},{"i":5275,"lat":225},{"i":5300,"lat":300},{"i":5340,"lat":520},{"i":5342,"lat":430},{"i":5360,"lat":260},
      {"i":5400,"lat":270},{"i":5440,"lat":240},{"i":5480,"lat":290},{"i":5520,"lat":255},{"i":5560,"lat":300},{"i":5600,"lat":245},{"i":5640,"lat":320},{"i":5650,"lat":470},{"i":5652,"lat":400},{"i":5660,"lat":280},{"i":5700,"lat":260},{"i":5740,"lat":295},{"i":5780,"lat":250},{"i":5820,"lat":280},{"i":5860,"lat":240},{"i":5900,"lat":275},{"i":5940,"lat":255},{"i":5980,"lat":290},
      {"i":5420,"lat":285},{"i":5460,"lat":260},{"i":5500,"lat":275},{"i":5540,"lat":240},{"i":5580,"lat":270},{"i":5620,"lat":260},{"i":5680,"lat":245},{"i":5720,"lat":275},{"i":5760,"lat":265},{"i":5800,"lat":240},{"i":5840,"lat":270},{"i":5880,"lat":255},{"i":5920,"lat":285},{"i":5960,"lat":262},
      {"i":6020,"lat":260},{"i":6060,"lat":240},{"i":6100,"lat":270},{"i":6140,"lat":235},{"i":6180,"lat":400},{"i":6182,"lat":330},{"i":6200,"lat":255},{"i":6250,"lat":232},{"i":6300,"lat":250},{"i":6350,"lat":228},{"i":6400,"lat":245},{"i":6450,"lat":225},{"i":6500,"lat":240},{"i":6550,"lat":220},{"i":6600,"lat":238},{"i":6650,"lat":222},{"i":6700,"lat":235},{"i":6750,"lat":218},{"i":6830,"lat":330},{"i":6832,"lat":280},{"i":6850,"lat":228},
      {"i":6040,"lat":250},{"i":6080,"lat":262},{"i":6120,"lat":245},{"i":6160,"lat":258},{"i":6225,"lat":245},{"i":6275,"lat":238},{"i":6325,"lat":235},{"i":6375,"lat":240},{"i":6425,"lat":232},{"i":6475,"lat":236},{"i":6525,"lat":228},{"i":6575,"lat":232},{"i":6625,"lat":226},{"i":6675,"lat":230},{"i":6725,"lat":225},{"i":6775,"lat":228},{"i":6800,"lat":222},
      {"i":6900,"lat":215},{"i":6950,"lat":228},{"i":7000,"lat":210},{"i":7050,"lat":222},{"i":7100,"lat":205},{"i":7120,"lat":160},{"i":7150,"lat":218},{"i":7200,"lat":208},{"i":7250,"lat":225},{"i":7300,"lat":210},{"i":7350,"lat":220},{"i":7400,"lat":205},{"i":7450,"lat":226},{"i":7500,"lat":212},{"i":7550,"lat":220},{"i":7600,"lat":206},{"i":7650,"lat":224},{"i":7700,"lat":210},{"i":7750,"lat":222},{"i":7800,"lat":205},{"i":7850,"lat":226},{"i":7900,"lat":212},{"i":7950,"lat":220},{"i":8000,"lat":208},{"i":8050,"lat":225},{"i":8100,"lat":210},{"i":8150,"lat":220},{"i":8200,"lat":204},{"i":8250,"lat":224},{"i":8300,"lat":212},{"i":8350,"lat":220},{"i":8400,"lat":206},{"i":8450,"lat":225},{"i":8500,"lat":210},{"i":8550,"lat":220},{"i":8600,"lat":205},{"i":8650,"lat":226},{"i":8700,"lat":212},{"i":8750,"lat":220},{"i":8800,"lat":206},{"i":8850,"lat":224},{"i":8900,"lat":212},{"i":8940,"lat":820},{"i":8941,"lat":760},{"i":8942,"lat":700},{"i":8943,"lat":640},{"i":8944,"lat":560},{"i":8945,"lat":500},{"i":8946,"lat":460},{"i":8947,"lat":420},{"i":8950,"lat":226},{"i":9000,"lat":210},{"i":9050,"lat":222},{"i":9100,"lat":280},{"i":9110,"lat":205},{"i":9150,"lat":224},{"i":9200,"lat":210},{"i":9250,"lat":220},{"i":9300,"lat":206},{"i":9350,"lat":225},{"i":9400,"lat":212},{"i":9450,"lat":220},{"i":9500,"lat":205},{"i":9550,"lat":226},{"i":9600,"lat":210},{"i":9650,"lat":222},{"i":9700,"lat":206},{"i":9750,"lat":224},{"i":9800,"lat":212},{"i":9850,"lat":220},{"i":9900,"lat":226},{"i":9950,"lat":235},
      {"i":6875,"lat":222},{"i":6925,"lat":210},{"i":6975,"lat":218},{"i":7025,"lat":214},{"i":7075,"lat":224},{"i":7125,"lat":212},{"i":7175,"lat":206},{"i":7225,"lat":218},{"i":7275,"lat":214},{"i":7325,"lat":226},{"i":7375,"lat":210},{"i":7425,"lat":216},{"i":7475,"lat":208},{"i":7525,"lat":224},{"i":7575,"lat":214},{"i":7625,"lat":218},{"i":7675,"lat":206},{"i":7725,"lat":216},{"i":7775,"lat":212},{"i":7825,"lat":222},{"i":7875,"lat":210},{"i":7925,"lat":226},{"i":7975,"lat":214},{"i":8025,"lat":216},{"i":8075,"lat":206},{"i":8125,"lat":224},{"i":8175,"lat":212},{"i":8225,"lat":218},{"i":8275,"lat":208},{"i":8325,"lat":226},{"i":8375,"lat":214},{"i":8425,"lat":216},{"i":8475,"lat":220},{"i":8525,"lat":206},{"i":8575,"lat":222},{"i":8625,"lat":214},{"i":8675,"lat":218},{"i":8725,"lat":208},{"i":8775,"lat":226},{"i":8825,"lat":214},{"i":8875,"lat":218},{"i":8925,"lat":210},{"i":8975,"lat":218},{"i":9025,"lat":214},{"i":9075,"lat":226},{"i":9125,"lat":212},{"i":9175,"lat":218},{"i":9225,"lat":208},{"i":9275,"lat":224},{"i":9325,"lat":214},{"i":9375,"lat":218},{"i":9425,"lat":208},{"i":9475,"lat":224},{"i":9525,"lat":214},{"i":9575,"lat":218},{"i":9625,"lat":210},{"i":9675,"lat":226},{"i":9725,"lat":214},{"i":9775,"lat":218},{"i":9825,"lat":224},{"i":9875,"lat":214},{"i":9925,"lat":230},{"i":9975,"lat":240},
      {"i":10000,"lat":240},{"i":10020,"lat":270},{"i":10040,"lat":230},{"i":10060,"lat":290},{"i":10080,"lat":250},{"i":10100,"lat":310},{"i":10120,"lat":260},{"i":10140,"lat":240},{"i":10160,"lat":330},{"i":10180,"lat":270},{"i":10200,"lat":300},{"i":10220,"lat":250},{"i":10240,"lat":380},{"i":10260,"lat":280},{"i":10280,"lat":320},{"i":10300,"lat":500},{"i":10305,"lat":440},{"i":10310,"lat":360},{"i":10330,"lat":270},{"i":10350,"lat":340},{"i":10370,"lat":290},{"i":10390,"lat":400},{"i":10410,"lat":260},{"i":10430,"lat":350},{"i":10450,"lat":300},{"i":10470,"lat":420},{"i":10490,"lat":280},{"i":10500,"lat":490},{"i":10505,"lat":380},{"i":10520,"lat":320},{"i":10540,"lat":270},{"i":10560,"lat":360},{"i":10580,"lat":300},{"i":10600,"lat":260},{"i":10620,"lat":390},{"i":10640,"lat":280},{"i":10660,"lat":490},{"i":10665,"lat":420},{"i":10680,"lat":330},{"i":10700,"lat":270},{"i":10720,"lat":310},{"i":10740,"lat":260},{"i":10760,"lat":350},{"i":10780,"lat":280},{"i":10800,"lat":240},{"i":10820,"lat":300},{"i":10840,"lat":260},{"i":10860,"lat":330},{"i":10880,"lat":280},{"i":10900,"lat":420},{"i":10910,"lat":530},{"i":10915,"lat":470},{"i":10930,"lat":300},{"i":10950,"lat":260},{"i":10970,"lat":340},{"i":10990,"lat":280},{"i":11010,"lat":250},{"i":11030,"lat":310},{"i":11050,"lat":270},{"i":11070,"lat":350},{"i":11090,"lat":290},{"i":11110,"lat":380},{"i":11130,"lat":300},{"i":11150,"lat":420},{"i":11170,"lat":340},{"i":11190,"lat":460},{"i":11210,"lat":380},{"i":11220,"lat":510},{"i":11230,"lat":320},{"i":11250,"lat":280},{"i":11270,"lat":360},{"i":11290,"lat":260},{"i":11310,"lat":300},{"i":11330,"lat":250},{"i":11350,"lat":280},{"i":11370,"lat":240},{"i":11390,"lat":270},{"i":11410,"lat":230},{"i":11430,"lat":300},{"i":11450,"lat":250},{"i":11470,"lat":280},{"i":11490,"lat":330},{"i":11510,"lat":260},{"i":11530,"lat":240},{"i":11550,"lat":290},{"i":11570,"lat":250},{"i":11590,"lat":310},{"i":11610,"lat":260},{"i":11630,"lat":230},{"i":11650,"lat":280},{"i":11670,"lat":250},{"i":11690,"lat":320},{"i":11710,"lat":270},{"i":11730,"lat":240},{"i":11740,"lat":400},{"i":11745,"lat":340},{"i":11760,"lat":260},{"i":11780,"lat":300},{"i":11800,"lat":250},{"i":11820,"lat":280},{"i":11840,"lat":240},{"i":11860,"lat":310},{"i":11880,"lat":260},{"i":11900,"lat":290},{"i":11920,"lat":250},{"i":11940,"lat":330},{"i":11960,"lat":280},{"i":11980,"lat":360},{"i":12000,"lat":300},{"i":12020,"lat":400},{"i":12040,"lat":320},{"i":12060,"lat":480},{"i":12070,"lat":530},{"i":12080,"lat":380},{"i":12100,"lat":440},{"i":12120,"lat":320},{"i":12140,"lat":500},{"i":12160,"lat":360},{"i":12180,"lat":420},{"i":12200,"lat":300},{"i":12220,"lat":460},{"i":12240,"lat":350},{"i":12260,"lat":280},{"i":12280,"lat":320},{"i":12300,"lat":260},{"i":12320,"lat":290},{"i":12340,"lat":250},{"i":12360,"lat":280},{"i":12380,"lat":240},{"i":12400,"lat":300},{"i":12420,"lat":260},{"i":12440,"lat":340},{"i":12460,"lat":280},{"i":12480,"lat":320},{"i":12500,"lat":400},{"i":12520,"lat":480},{"i":12530,"lat":580},{"i":12540,"lat":420},{"i":12560,"lat":330},{"i":12580,"lat":270},{"i":12600,"lat":300},{"i":12620,"lat":250},{"i":12640,"lat":290},{"i":12660,"lat":240},{"i":12680,"lat":280},{"i":12700,"lat":320},{"i":12720,"lat":260},{"i":12750,"lat":430},{"i":12755,"lat":360},{"i":12770,"lat":280},{"i":12790,"lat":250},{"i":12810,"lat":230},{"i":12830,"lat":260},{"i":12850,"lat":240},{"i":12870,"lat":270},{"i":12890,"lat":230},{"i":12910,"lat":250},{"i":12930,"lat":240},{"i":12950,"lat":260},{"i":12970,"lat":280},{"i":12990,"lat":300},
      {"i":10010,"lat":250},{"i":10030,"lat":240},{"i":10050,"lat":260},{"i":10070,"lat":240},{"i":10090,"lat":270},{"i":10110,"lat":250},{"i":10130,"lat":280},{"i":10150,"lat":260},{"i":10170,"lat":250},{"i":10190,"lat":290},{"i":10210,"lat":270},{"i":10230,"lat":260},{"i":10250,"lat":300},{"i":10270,"lat":260},{"i":10290,"lat":280},{"i":10320,"lat":300},{"i":10340,"lat":280},{"i":10360,"lat":260},{"i":10380,"lat":320},{"i":10400,"lat":300},{"i":10420,"lat":270},{"i":10440,"lat":280},{"i":10460,"lat":330},{"i":10480,"lat":300},{"i":10510,"lat":330},{"i":10530,"lat":290},{"i":10550,"lat":300},{"i":10570,"lat":280},{"i":10590,"lat":320},{"i":10610,"lat":290},{"i":10630,"lat":300},{"i":10650,"lat":320},{"i":10670,"lat":360},{"i":10690,"lat":290},{"i":10710,"lat":280},{"i":10730,"lat":290},{"i":10750,"lat":300},{"i":10770,"lat":270},{"i":10790,"lat":260},{"i":10810,"lat":270},{"i":10830,"lat":280},{"i":10850,"lat":280},{"i":10870,"lat":290},{"i":10890,"lat":320},{"i":10920,"lat":380},{"i":10940,"lat":290},{"i":10960,"lat":280},{"i":10980,"lat":300},{"i":11000,"lat":270},{"i":11020,"lat":280},{"i":11040,"lat":290},{"i":11060,"lat":300},{"i":11080,"lat":280},{"i":11100,"lat":320},{"i":11120,"lat":300},{"i":11140,"lat":340},{"i":11160,"lat":360},{"i":11180,"lat":320},{"i":11200,"lat":340},{"i":11240,"lat":300},{"i":11260,"lat":300},{"i":11280,"lat":280},{"i":11300,"lat":270},{"i":11320,"lat":260},{"i":11340,"lat":270},{"i":11360,"lat":260},{"i":11380,"lat":250},{"i":11400,"lat":260},{"i":11420,"lat":250},{"i":11440,"lat":260},{"i":11460,"lat":270},{"i":11480,"lat":260},{"i":11500,"lat":270},{"i":11520,"lat":250},{"i":11540,"lat":260},{"i":11560,"lat":270},{"i":11580,"lat":260},{"i":11600,"lat":280},{"i":11620,"lat":250},{"i":11640,"lat":260},{"i":11660,"lat":270},{"i":11680,"lat":280},{"i":11700,"lat":260},{"i":11720,"lat":250},{"i":11750,"lat":300},{"i":11770,"lat":270},{"i":11790,"lat":260},{"i":11810,"lat":270},{"i":11830,"lat":250},{"i":11850,"lat":270},{"i":11870,"lat":280},{"i":11890,"lat":270},{"i":11910,"lat":260},{"i":11930,"lat":280},{"i":11950,"lat":290},{"i":11970,"lat":300},{"i":11990,"lat":320},{"i":12010,"lat":340},{"i":12030,"lat":360},{"i":12050,"lat":380},{"i":12090,"lat":400},{"i":12110,"lat":360},{"i":12130,"lat":380},{"i":12150,"lat":400},{"i":12170,"lat":340},{"i":12190,"lat":360},{"i":12210,"lat":320},{"i":12230,"lat":300},{"i":12250,"lat":300},{"i":12270,"lat":270},{"i":12290,"lat":280},{"i":12310,"lat":270},{"i":12330,"lat":260},{"i":12350,"lat":270},{"i":12370,"lat":260},{"i":12390,"lat":270},{"i":12410,"lat":260},{"i":12430,"lat":280},{"i":12450,"lat":300},{"i":12470,"lat":290},{"i":12490,"lat":320},{"i":12510,"lat":340},{"i":12550,"lat":360},{"i":12570,"lat":300},{"i":12590,"lat":280},{"i":12610,"lat":270},{"i":12630,"lat":260},{"i":12650,"lat":270},{"i":12670,"lat":260},{"i":12690,"lat":280},{"i":12710,"lat":280},{"i":12730,"lat":270},{"i":12760,"lat":300},{"i":12780,"lat":260},{"i":12800,"lat":250},{"i":12820,"lat":240},{"i":12840,"lat":250},{"i":12860,"lat":250},{"i":12880,"lat":250},{"i":12900,"lat":240},{"i":12920,"lat":250},{"i":12940,"lat":250},{"i":12960,"lat":270},{"i":12980,"lat":280},{"i":13000,"lat":260}
    ]
  },
  "vconcat": [
    {
      "data": {"name": "google"},
      "width": 602,
      "height": 109,
      "title": {"text": "a. Trace for google.com", "orient": "bottom", "anchor": "middle", "dx": -49, "offset": 15, "font": "DejaVu Serif", "fontSize": 16, "fontWeight": "normal"},
      "mark": {"type": "circle", "size": 22, "color": "#1f77b4", "opacity": 0.8},
      "encoding": {
        "x": {
          "field": "i", "type": "quantitative",
          "scale": {"domain": [0, 13000], "nice": false, "zero": false},
          "axis": {"title": "Sample Index", "values": [0, 2000, 4000, 6000, 8000, 10000, 12000], "format": ",d", "tickSize": 7, "labelPadding": 3, "titlePadding": 16}
        },
        "y": {
          "field": "lat", "type": "quantitative",
          "scale": {"domain": [0, 1100], "nice": false},
          "axis": {"title": "Latency [μs]", "values": [0, 500, 1000], "format": ",d", "tickSize": 8, "labelPadding": 7, "titlePadding": 14}
        }
      }
    },
    {
      "data": {"name": "youtube"},
      "width": 602,
      "height": 108,
      "title": {"text": "b. Trace for youtube.com", "orient": "bottom", "anchor": "middle", "dx": -49, "offset": 15, "font": "DejaVu Serif", "fontSize": 16, "fontWeight": "normal"},
      "mark": {"type": "circle", "size": 22, "color": "#1f77b4", "opacity": 0.8},
      "encoding": {
        "x": {
          "field": "i", "type": "quantitative",
          "scale": {"domain": [0, 13000], "nice": false, "zero": false},
          "axis": {"title": "Sample Index", "values": [0, 2000, 4000, 6000, 8000, 10000, 12000], "format": ",d", "tickSize": 7, "labelPadding": 3, "titlePadding": 16}
        },
        "y": {
          "field": "lat", "type": "quantitative",
          "scale": {"domain": [0, 1100], "nice": false},
          "axis": {"title": "Latency [μs]", "values": [0, 500, 1000], "format": ",d", "tickSize": 8, "labelPadding": 7, "titlePadding": 14}
        }
      }
    }
  ],
  "spacing": 15
}
